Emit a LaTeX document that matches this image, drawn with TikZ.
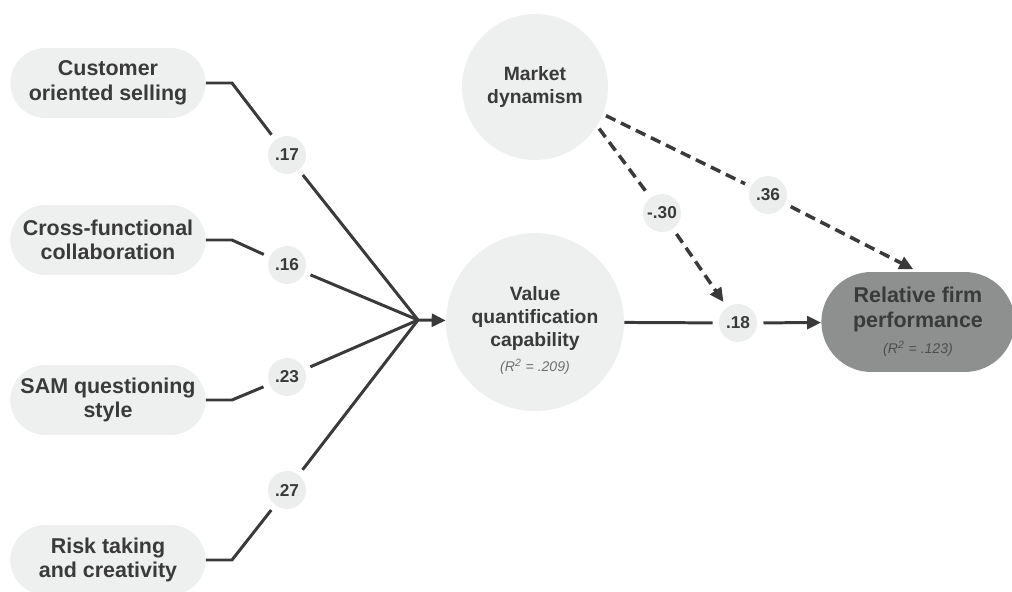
\documentclass[tikz,border=0pt]{standalone}
\usepackage{fontspec}
\setmainfont{Liberation Sans}
\usetikzlibrary{positioning,shapes.misc,arrows.meta}
\definecolor{boxgray}{RGB}{238,240,239}
\definecolor{labgray}{RGB}{236,237,237}
\definecolor{darkpill}{RGB}{142,144,144}
\definecolor{inkgray}{RGB}{58,58,58}
\definecolor{rsqgray}{RGB}{110,110,110}
\newcommand{\rsqfont}{\mdseries\itshape\fontsize{8}{10}\selectfont}

\begin{document}
\begin{tikzpicture}[x=0.02cm,y=-0.02cm,
	pill/.style={rounded rectangle,fill=boxgray,minimum width=4.14cm,minimum height=1.4cm,align=center,text=inkgray,font=\bfseries\fontsize{12.2}{14}\selectfont},
	bubble/.style={circle,fill=boxgray,align=center,inner sep=0pt,text=inkgray,font=\bfseries\fontsize{11}{13}\selectfont},
	coef/.style={circle,fill=labgray,minimum size=0.76cm,inner sep=0pt,outer sep=0.13cm,text=inkgray,font=\bfseries\fontsize{9.8}{10}\selectfont},
	link/.style={draw=inkgray,line width=1.7pt},
	dlink/.style={link,line width=2pt,dash pattern=on 6pt off 3.5pt},
	tip/.style={-{Triangle[length=0.28cm,width=0.26cm]}}
]
	\useasboundingbox (0,0) rectangle (1012,592);

	% predictors
	\node[pill] (cos) at (108,83) {Customer\\oriented selling};
	\node[pill] (cfc) at (108,240) {Cross-functional\\collaboration};
	\node[pill] (sam) at (108,400) {SAM questioning\\style};
	\node[pill] (rtc) at (108,560) {Risk taking\\and creativity};

	% constructs
	\node[bubble,minimum size=2.92cm,outer sep=2pt] (md) at (535,87) {Market\\dynamism};
	\node[bubble,minimum size=3.56cm] (vqc) at (535,322) {\rule{0pt}{0.62cm}Value\\quantification\\capability\\[1pt]{\rsqfont\color{rsqgray}(R\textsuperscript{2} = .209)}};
	\node[pill,fill=darkpill,minimum width=4.1cm,minimum height=2cm] (rfp) at (918,322) {Relative firm\\performance\\[1pt]{\rsqfont\color{rsqgray!70!black}(R\textsuperscript{2} = .123)}};

	% path coefficients
	\node[coef] (c17) at (287,155) {.17};
	\node[coef] (c16) at (287,265) {.16};
	\node[coef] (c23) at (287,377) {.23};
	\node[coef] (c27) at (287,490) {.27};
	\node[coef] (c18) at (738,323) {.18};
	\node[coef] (c30) at (662,213) {-.30};
	\node[coef] (c36) at (768,195) {.36};

	\coordinate (hub) at (418,320);
	\foreach \src/\lab in {cos/c17,cfc/c16,sam/c23,rtc/c27}{
		\draw[link] (\src.east) -- ++(26,0) -- (\lab);
		\draw[link] (\lab) -- (hub);
	}
	\draw[link,tip] (hub) -- (vqc);
	\draw[link] (vqc) -- (c18);
	\draw[link,tip] (c18) -- (rfp);

	% moderation
	\draw[dlink] (md.-33) -- (c30);
	\draw[dlink,tip] (c30) -- (c18);
	\draw[dlink] (md.-22) -- (c36);
	\draw[dlink,tip,shorten >=3pt] (c36) -- (rfp.north);
\end{tikzpicture}
\end{document}
